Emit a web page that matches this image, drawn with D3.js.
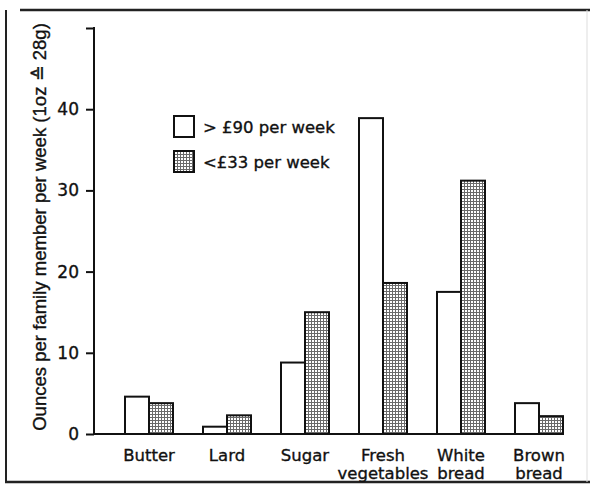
<!DOCTYPE html>
<html>
<head>
<meta charset="utf-8">
<script src="https://cdn.jsdelivr.net/npm/d3@7"></script>
<style>
  body { margin: 0; background: #fff; }
  svg text { font-family: "DejaVu Sans", "Liberation Sans", Arial, sans-serif; fill: #111;
             stroke: #111; stroke-width: 0.35px; }
</style>
</head>
<body>
<div id="chart"></div>
<script>
// data
var categories = ["Butter", "Lard", "Sugar", "Fresh vegetables", "White bread", "Brown bread"];
var catLines = [["Butter"], ["Lard"], ["Sugar"], ["Fresh", "vegetables"], ["White", "bread"], ["Brown", "bread"]];
var series = ["> £90 per week", "<£33 per week"];
var rich = [4.6, 0.9, 8.8, 38.9, 17.5, 3.8];
var poor = [3.8, 2.3, 15.0, 18.6, 31.2, 2.2];
var yTicks = [0, 10, 20, 30, 40];
var yTitle = "Ounces per family member per week (1oz \u2259 28g)";

var W = 590, H = 489;
var svg = d3.select("#chart").append("svg")
    .attr("width", W).attr("height", H);

// hatched fill
var defs = svg.append("defs");
var pat = defs.append("pattern")
    .attr("id", "grid")
    .attr("patternUnits", "userSpaceOnUse")
    .attr("width", 3).attr("height", 3);
pat.append("rect").attr("width", 3).attr("height", 3).attr("fill", "#fff");
pat.append("rect").attr("width", 3).attr("height", 1).attr("fill", "#6a6a6a");
pat.append("rect").attr("width", 1).attr("height", 3).attr("fill", "#6a6a6a");

// outer frame
var frame = svg.append("g").attr("stroke", "#222").attr("fill", "none");
frame.append("line").attr("x1", 6).attr("y1", 10).attr("x2", 6).attr("y2", 482).attr("stroke-width", 2);
frame.append("line").attr("x1", 20).attr("y1", 10).attr("x2", 590).attr("y2", 10).attr("stroke-width", 2.5);
frame.append("line").attr("x1", 5).attr("y1", 482).attr("x2", 590).attr("y2", 482).attr("stroke-width", 2.5);
frame.append("line").attr("x1", 587).attr("y1", 10).attr("x2", 587).attr("y2", 482)
    .attr("stroke", "#ddd").attr("stroke-width", 1);

var axisX = 94;
var yScale = d3.scaleLinear().domain([0, 50]).range([434, 28]);
var xScale = d3.scaleBand().domain(categories)
    .range([110, 578]).paddingInner(30 / 78).paddingOuter(15 / 78);
var xInner = d3.scaleBand().domain(series).range([0, xScale.bandwidth()]);

// bars
var rows = categories.map(function(c, i) {
  return { cat: c, vals: [{ s: series[0], v: rich[i] }, { s: series[1], v: poor[i] }] };
});
var groups = svg.append("g").selectAll("g")
    .data(rows).enter().append("g")
    .attr("transform", function(d) { return "translate(" + xScale(d.cat) + ",0)"; });
groups.selectAll("rect")
    .data(function(d) { return d.vals; })
    .enter().append("rect")
    .attr("x", function(d) { return xInner(d.s); })
    .attr("y", function(d) { return yScale(d.v); })
    .attr("width", xInner.bandwidth())
    .attr("height", function(d) { return yScale(0) - yScale(d.v); })
    .attr("fill", function(d) { return d.s === series[0] ? "#fff" : "url(#grid)"; })
    .attr("stroke", "#111")
    .attr("stroke-width", 2);

// y axis
var yAxis = d3.axisLeft(yScale).tickValues(yTicks.concat([50]))
    .tickSize(8).tickPadding(7)
    .tickFormat(function(d) { return d === 50 ? "" : d; });
var yg = svg.append("g").attr("transform", "translate(" + axisX + ",0)").call(yAxis);
yg.select(".domain").remove();
yg.selectAll("line").attr("stroke", "#111").attr("stroke-width", 2);
yg.selectAll("text").style("font-size", "17px").attr("fill", "#111")
    .attr("font-family", "'DejaVu Sans', sans-serif");
svg.append("line")
    .attr("x1", axisX).attr("x2", axisX)
    .attr("y1", yScale(50) - 1).attr("y2", yScale(0) + 1)
    .attr("stroke", "#111").attr("stroke-width", 2);

// baseline
var lastCat = categories[categories.length - 1];
svg.append("line")
    .attr("x1", axisX).attr("x2", xScale(lastCat) + xScale.bandwidth() + 1)
    .attr("y1", yScale(0)).attr("y2", yScale(0))
    .attr("stroke", "#111").attr("stroke-width", 2);

// category labels
var labels = svg.append("g").selectAll("text")
    .data(categories).enter().append("text")
    .attr("x", function(d) { return xScale(d) + xScale.bandwidth() / 2; })
    .attr("y", 461)
    .attr("text-anchor", "middle")
    .style("font-size", "16.5px");
labels.selectAll("tspan")
    .data(function(d, i) { return catLines[i]; })
    .enter().append("tspan")
    .attr("x", function() { return d3.select(this.parentNode).attr("x"); })
    .attr("dy", function(d, i) { return i === 0 ? 0 : 18; })
    .text(function(d) { return d; });

// y title
var yt = svg.append("text")
    .attr("transform", "translate(46,227) rotate(-90)")
    .attr("text-anchor", "middle")
    .style("font-family", "'Liberation Sans', Arial, sans-serif")
    .style("font-size", "15px")
    .text(yTitle);
var len = yt.node().getComputedTextLength();
yt.style("font-size", (15 * 408 / len) + "px");

// legend
var legend = svg.append("g").selectAll("g")
    .data(series).enter().append("g")
    .attr("transform", function(d, i) { return "translate(174," + (116 + i * 35) + ")"; });
legend.append("rect")
    .attr("width", 20).attr("height", 21)
    .attr("fill", function(d, i) { return i === 0 ? "#fff" : "url(#grid)"; })
    .attr("stroke", "#111").attr("stroke-width", 2);
legend.append("text")
    .attr("x", 29).attr("y", 17)
    .style("font-size", "16.5px")
    .text(function(d) { return d; });
</script>
</body>
</html>
